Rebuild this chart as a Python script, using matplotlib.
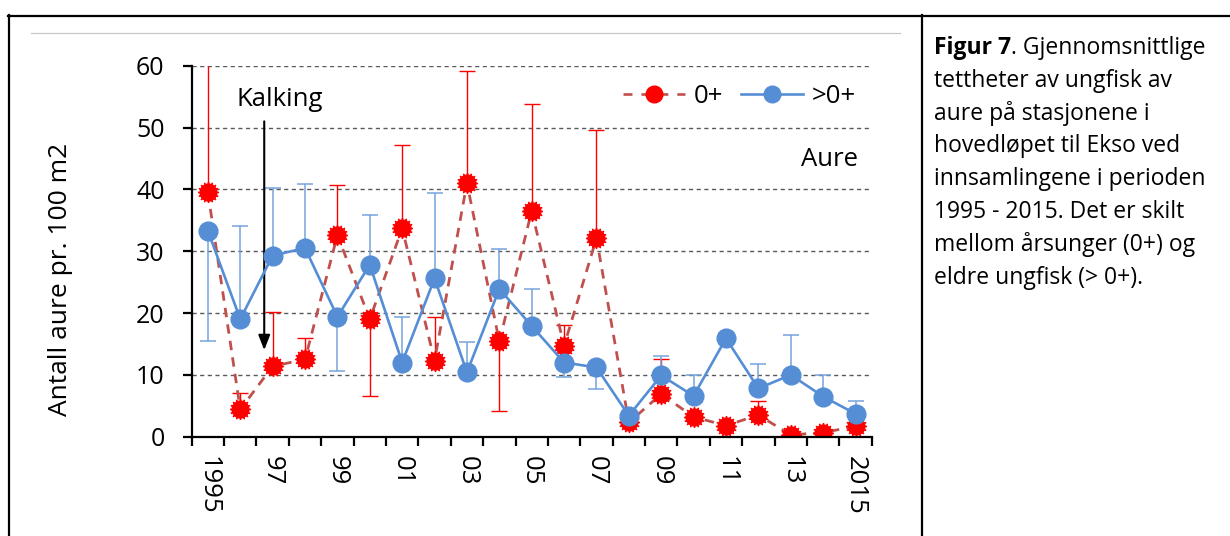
import matplotlib
matplotlib.use('Agg')
import matplotlib.pyplot as plt
from matplotlib.lines import Line2D
import numpy as np

plt.rcParams['font.family'] = ['Open Sans', 'DejaVu Sans']

# data
years = list(range(1995, 2016))
year_labels = ['1995', '', '97', '', '99', '', '01', '', '03', '', '05', '',
               '07', '', '09', '', '11', '', '13', '', '2015']

# 0+ (årsunger)
yngel = [39.5, 4.4, 11.4, 12.5, 32.6, 19.0, 33.7, 12.3, 41.0, 15.4, 36.5,
         14.7, 32.1, 2.3, 6.9, 3.2, 1.8, 3.5, 0.3, 0.65, 1.7]
yngel_opp = [25.0, 2.7, 8.7, 3.4, 8.1, 0, 13.5, 7.1, 18.2, 0, 17.3,
             3.3, 17.5, 0, 5.6, 0, 0, 2.2, 0, 0, 0]
yngel_ned = [0, 0, 0, 0, 0, 12.4, 0, 0, 0, 11.2, 0,
             0, 0, 0, 0, 0, 0, 0, 0, 0, 0]

# >0+ (eldre ungfisk)
eldre = [33.3, 19.0, 29.3, 30.5, 19.4, 27.8, 12.0, 25.6, 10.4, 23.9, 17.9,
         12.0, 11.2, 3.4, 9.9, 6.6, 15.9, 7.8, 10.0, 6.5, 3.7]
eldre_opp = [0, 15.1, 11.0, 10.3, 0, 8.1, 7.3, 13.8, 4.9, 6.4, 6.0,
             0, 0, 0, 3.2, 3.4, 0, 4.0, 6.5, 3.5, 2.1]
eldre_ned = [17.8, 0, 0, 0, 8.7, 0, 0, 0, 0, 0, 0,
             2.3, 3.5, 0, 0, 0, 0, 0, 0, 0, 0]

caption = ["tettheter av ungfisk av",
           "aure på stasjonene i",
           "hovedløpet til Ekso ved",
           "innsamlingene i perioden",
           "1995 - 2015. Det er skilt",
           "mellom årsunger (0+) og",
           "eldre ungfisk (> 0+)."]

W, H = 1230, 536
fig = plt.figure(figsize=(W / 100, H / 100), dpi=100)
ax = fig.add_axes([191.7 / W, (H - 436.7) / H, 680 / W, 371 / H])

x = np.arange(len(years))
red = '#FF0000'
redline = '#C0504D'
blue = '#558ED5'
blue_err = '#75A3DD'

# error bars
ax.errorbar(x, yngel, yerr=[yngel_ned, yngel_opp], fmt='none', ecolor=red,
            elinewidth=1.0, capsize=5.5, capthick=1.0, zorder=2)
ax.errorbar(x, eldre, yerr=[eldre_ned, eldre_opp], fmt='none', ecolor=blue_err,
            elinewidth=1.1, capsize=5.5, capthick=1.1, zorder=2)

# 0+ series
ax.plot(x, yngel, ls=(0, (3.4, 2.6)), color=redline, lw=2.0, zorder=3)
ax.plot(x, yngel, ls='none', marker=(16, 1, 0), ms=15, color=red, zorder=4)
ax.plot(x, yngel, ls='none', marker='o', ms=12, color=red, zorder=4)

# >0+ series
ax.plot(x, eldre, '-o', color=blue, lw=1.9, ms=13.5, zorder=5)

ax.set_xlim(-0.5, len(years) - 0.5)
ax.set_ylim(0, 60)
ax.set_yticks(np.arange(0, 61, 10))
ax.set_xticks(x)
ax.set_xticklabels(year_labels, rotation=270, fontsize=18.5)
ax.set_xticks(np.arange(-0.5, len(years), 1), minor=True)
ax.tick_params(axis='x', which='major', length=0, pad=14)
ax.tick_params(axis='x', which='minor', length=6.5, width=1.6, direction='out')
ax.tick_params(axis='y', length=6.5, width=1.6, pad=13, labelsize=18)

for v in range(10, 61, 10):
    ax.axhline(v, color='#595959', lw=1.0, ls=(0, (3, 2.5)), zorder=1)

for s in ['top', 'right']:
    ax.spines[s].set_visible(False)
for s in ['left', 'bottom']:
    ax.spines[s].set_linewidth(1.6)
    ax.spines[s].set_zorder(6)

ax.set_ylabel('Antall aure pr. 100 m2', fontsize=19)
ax.yaxis.set_label_coords(-0.175, 0.425)

# Kalking arrow
ax.text(2.22, 54.6, 'Kalking', fontsize=18.5, ha='center', va='center')
ax.annotate('', xy=(1.74, 14.0), xytext=(1.74, 51.0),
            arrowprops=dict(arrowstyle='-|>,head_length=0.9,head_width=0.35',
                            color='black', lw=1.5, shrinkA=0, shrinkB=0))

ax.text(0.98, 0.748, 'Aure', transform=ax.transAxes, fontsize=18.5,
        ha='right', va='center')

handles = [Line2D([], [], ls=(0, (3.4, 3.4)), color=redline, lw=1.9,
                  marker='o', ms=12, mfc=red, mec=red),
           Line2D([], [], ls='-', color=blue, lw=1.9, marker='o', ms=12,
                  mfc=blue, mec=blue)]
ax.legend(handles, ['0+', '>0+'], ncol=2, frameon=False, fontsize=18.5,
          loc='center right', bbox_to_anchor=(1.0, 0.916),
          handlelength=2.4, columnspacing=0.7, handletextpad=0.35,
          borderaxespad=0.2)

# frame lines of the table / chart area
def hline(y, x0, x1, **kw):
    fig.add_artist(Line2D([x0 / W, x1 / W], [1 - y / H, 1 - y / H], **kw))

def vline(xp, y0, y1, **kw):
    fig.add_artist(Line2D([xp / W, xp / W], [1 - y0 / H, 1 - y1 / H], **kw))

hline(16, 8, W, color='black', lw=1.6)
vline(9, 15, H, color='black', lw=1.6)
vline(921.5, 15, H, color='black', lw=1.6)
hline(33.3, 31, 900, color='#C8C8C8', lw=0.9)

# caption
bold = fig.text(934 / W, 1 - 48 / H, 'Figur 7', fontsize=16.5,
                fontweight='bold', va='center', ha='left')
ax.annotate('. Gjennomsnittlige', xy=(1, 0.5), xycoords=bold, fontsize=16.5,
            va='center', ha='left', annotation_clip=False)
for i, line in enumerate(caption):
    fig.text(934 / W, 1 - (48 + 32.8 * (i + 1)) / H, line, fontsize=16.5,
             va='center', ha='left')

fig.savefig('out.png', dpi=100)
